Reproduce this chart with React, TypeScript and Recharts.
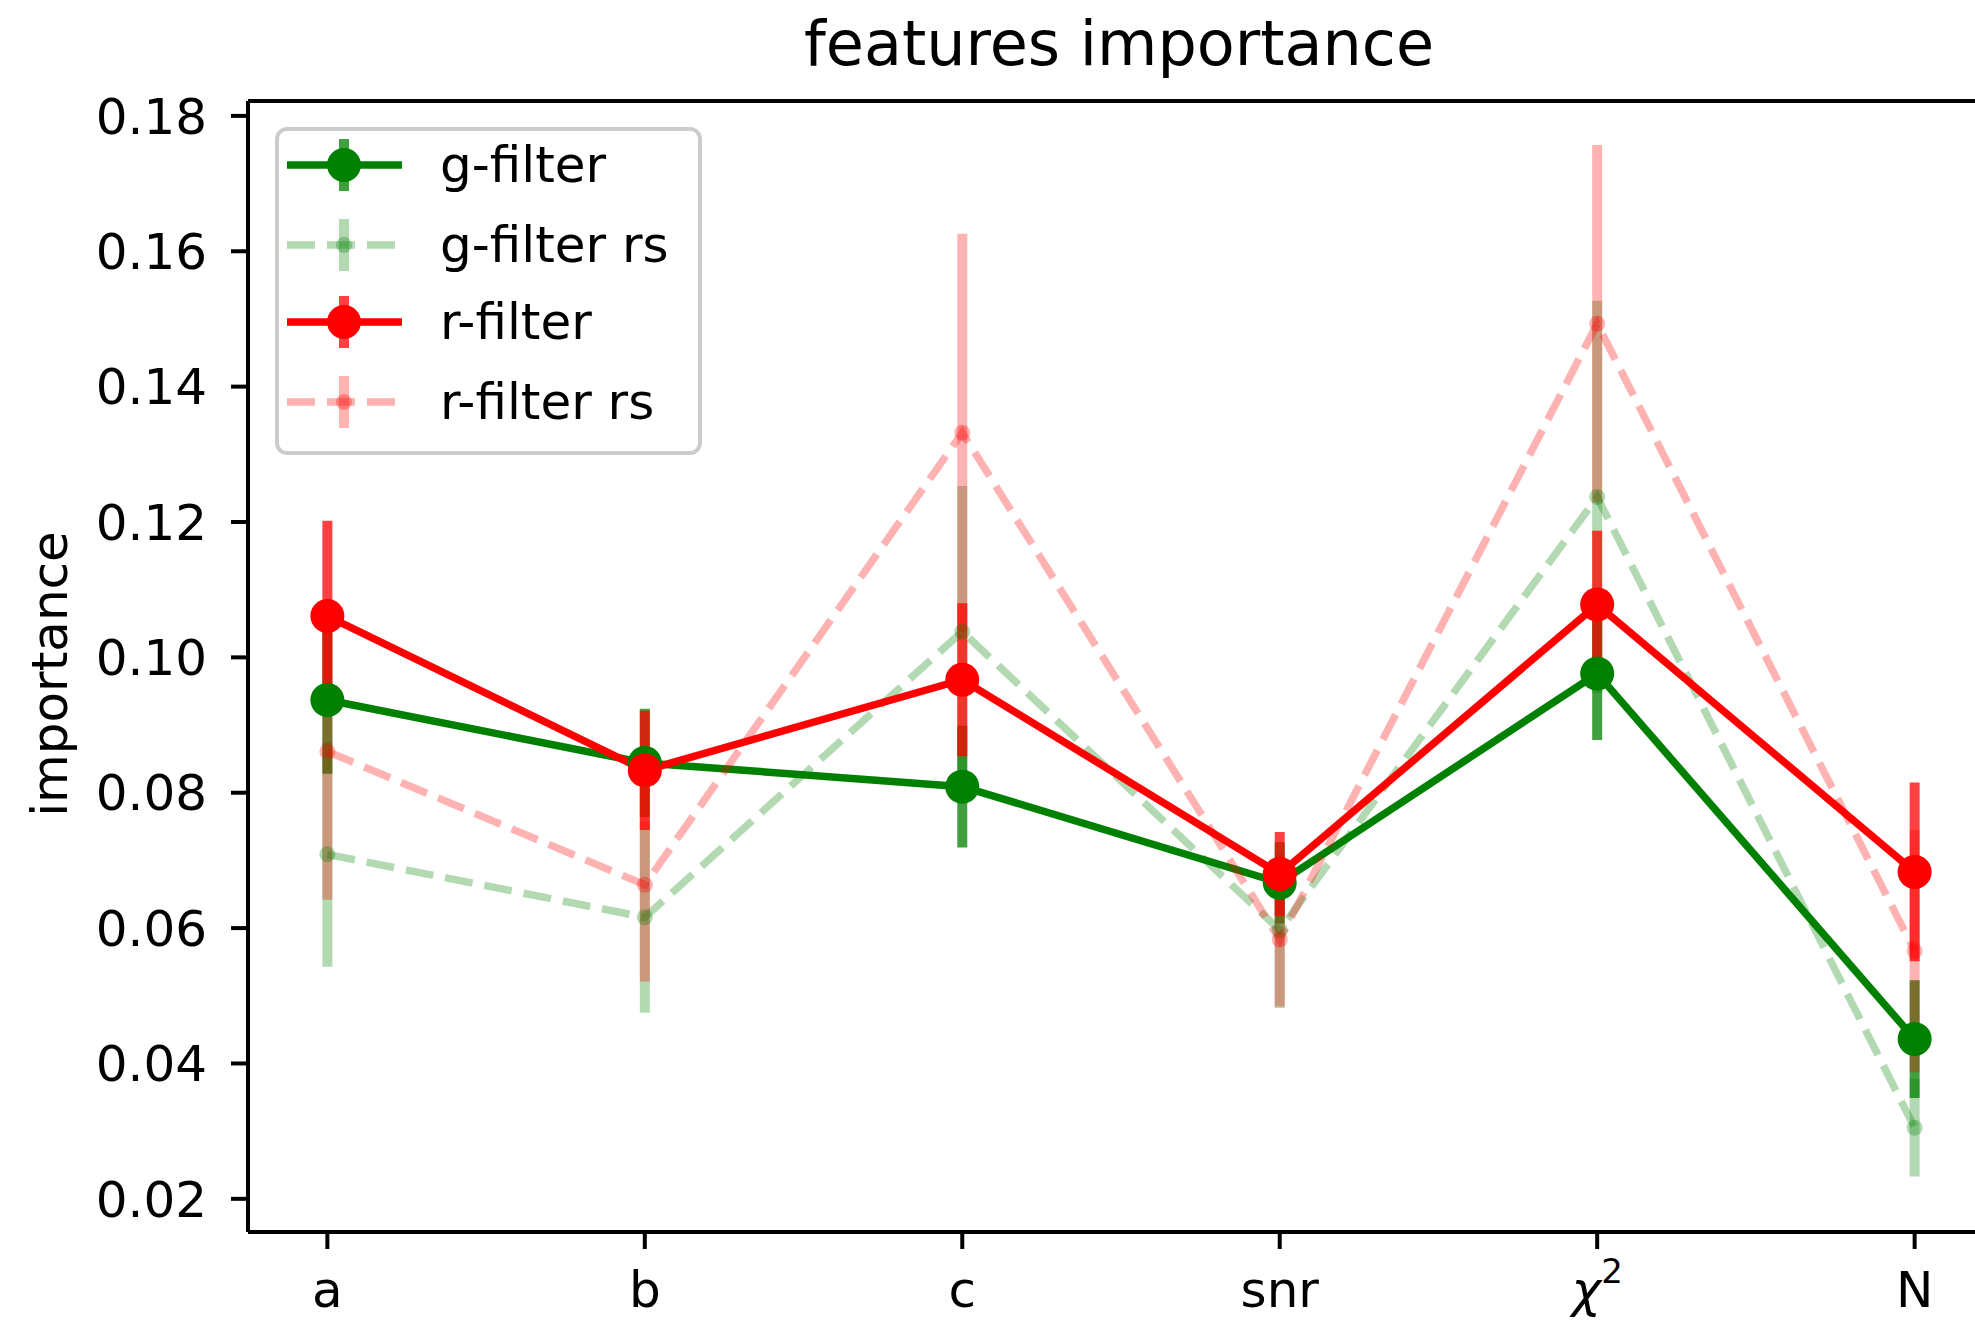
import { ComposedChart, Line, XAxis, YAxis, ErrorBar, ReferenceLine, Legend, Customized } from 'recharts';

const FONT = '"DejaVu Sans", sans-serif';

const categories = ['a', 'b', 'c', 'snr', 'χ²', 'N'];
const gFilter = [0.0937, 0.0844, 0.0809, 0.0667, 0.0976, 0.0436];
const gFilterErr = [0.0109, 0.008, 0.009, 0.006, 0.0098, 0.0087];
const gFilterRs = [0.0709, 0.0616, 0.1038, 0.0597, 0.1237, 0.0305];
const gFilterRsErr = [0.0166, 0.0141, 0.0215, 0.0115, 0.029, 0.0072];
const rFilter = [0.1061, 0.0833, 0.0967, 0.068, 0.1078, 0.0683];
const rFilterErr = [0.0141, 0.0088, 0.0113, 0.0062, 0.0109, 0.0132];
const rFilterRs = [0.0861, 0.0664, 0.1332, 0.0583, 0.1493, 0.0566];
const rFilterRsErr = [0.0219, 0.0143, 0.0294, 0.0099, 0.0264, 0.0179];
const yTicks = [0.02, 0.04, 0.06, 0.08, 0.1, 0.12, 0.14, 0.16, 0.18];

const legendItems = [
  { label: 'g-filter', rgb: '0,128,0', rs: false },
  { label: 'g-filter rs', rgb: '0,128,0', rs: true },
  { label: 'r-filter', rgb: '255,0,0', rs: false },
  { label: 'r-filter rs', rgb: '255,0,0', rs: true },
];

const data = categories.map((name, i) => ({
  x: i,
  name,
  gFilter: gFilter[i],
  gFilterErr: gFilterErr[i],
  gFilterRs: gFilterRs[i],
  gFilterRsErr: gFilterRsErr[i],
  rFilter: rFilter[i],
  rFilterErr: rFilterErr[i],
  rFilterRs: rFilterRs[i],
  rFilterRsErr: rFilterRsErr[i],
}));

function CategoryTick(props: any) {
  const { x, y, payload } = props;
  const label = categories[payload.value];
  if (label === 'χ²') {
    return (
      <text x={x} y={y} dy={38} textAnchor="middle" fontSize={50} fill="#000" fontFamily={FONT}>
        <tspan fontStyle="italic">χ</tspan>
        <tspan fontSize={34} dy={-24}>2</tspan>
      </text>
    );
  }
  return (
    <text x={x} y={y} dy={38} textAnchor="middle" fontSize={50} fill="#000" fontFamily={FONT}>
      {label}
    </text>
  );
}

function LegendBox() {
  const rows = [38, 118, 195, 275];
  return (
    <svg width={427} height={330}>
      <rect x={2} y={2} width={423} height={324} rx={10} fill="rgba(255,255,255,0.8)" stroke="#cccccc" strokeWidth={4} />
      {legendItems.map((it, i) => {
        const cy = rows[i];
        const a = it.rs ? 0.3 : 1;
        return (
          <g key={it.label}>
            <line
              x1={12}
              x2={127}
              y1={cy}
              y2={cy}
              stroke={`rgba(${it.rgb},${a})`}
              strokeWidth={7.5}
              strokeDasharray={it.rs ? '28 12' : undefined}
            />
            <line x1={69} x2={69} y1={cy - 26} y2={cy + 26} stroke={`rgba(${it.rgb},${it.rs ? 0.3 : 0.75})`} strokeWidth={10} />
            <circle cx={69} cy={cy} r={it.rs ? 8 : 17} fill={`rgba(${it.rgb},${a})`} />
            <text x={165} y={cy} dominantBaseline="central" fontSize={50} fill="#000" fontFamily={FONT}>
              {it.label}
            </text>
          </g>
        );
      })}
    </svg>
  );
}

function Title() {
  return (
    <g>
      <text x={1119} y={65} textAnchor="middle" fontSize={62} fill="#000" fontFamily={FONT}>
        features importance
      </text>
      <text
        x={50}
        y={674}
        transform="rotate(-90 50 674)"
        textAnchor="middle"
        dominantBaseline="central"
        fontSize={50}
        fill="#000"
        fontFamily={FONT}
      >
        importance
      </text>
    </g>
  );
}

export default function App() {
  return (
    <div style={{ position: 'absolute', left: 0, top: 0, width: 1975, height: 1337, overflow: 'hidden', background: '#fff' }}>
      <ComposedChart width={2000} height={1337} data={data} margin={{ top: 101, right: 6, bottom: 0, left: 0 }}>
        <XAxis
          type="number"
          dataKey="x"
          domain={[-0.25, 5.25]}
          ticks={[0, 1, 2, 3, 4, 5]}
          allowDataOverflow
          interval={0}
          height={105}
          tick={<CategoryTick />}
          tickSize={17}
          tickMargin={20}
          axisLine={{ stroke: '#000', strokeWidth: 4 }}
          tickLine={{ stroke: '#000', strokeWidth: 4 }}
        />
        <YAxis
          type="number"
          domain={[0.0151, 0.1822]}
          ticks={yTicks}
          allowDataOverflow
          interval={0}
          width={248}
          tickFormatter={(v: number) => v.toFixed(2)}
          tick={{ fontSize: 50, fill: '#000', fontFamily: FONT }}
          tickSize={17}
          tickMargin={24}
          axisLine={{ stroke: '#000', strokeWidth: 4 }}
          tickLine={{ stroke: '#000', strokeWidth: 4 }}
        />
        <ReferenceLine y={0.1822} stroke="#000" strokeWidth={4} />
        <ReferenceLine x={5.25} stroke="#000" strokeWidth={4} />
        <Line
          type="linear"
          dataKey="gFilter"
          stroke="#008000"
          strokeWidth={7.5}
          dot={{ r: 17, fill: '#008000', stroke: 'none' }}
          activeDot={false}
          isAnimationActive={false}
        >
          <ErrorBar dataKey="gFilterErr" direction="y" width={0} stroke="rgba(0,128,0,0.75)" strokeWidth={10} />
        </Line>
        <Line
          type="linear"
          dataKey="gFilterRs"
          stroke="rgba(0,128,0,0.3)"
          strokeWidth={7.5}
          strokeDasharray="28 12"
          dot={{ r: 8, fill: 'rgba(0,128,0,0.3)', stroke: 'none', strokeDasharray: '' }}
          activeDot={false}
          isAnimationActive={false}
        >
          <ErrorBar dataKey="gFilterRsErr" direction="y" width={0} stroke="rgba(0,128,0,0.3)" strokeWidth={10} />
        </Line>
        <Line
          type="linear"
          dataKey="rFilter"
          stroke="#ff0000"
          strokeWidth={7.5}
          dot={{ r: 17, fill: '#ff0000', stroke: 'none' }}
          activeDot={false}
          isAnimationActive={false}
        >
          <ErrorBar dataKey="rFilterErr" direction="y" width={0} stroke="rgba(255,0,0,0.75)" strokeWidth={10} />
        </Line>
        <Line
          type="linear"
          dataKey="rFilterRs"
          stroke="rgba(255,0,0,0.3)"
          strokeWidth={7.5}
          strokeDasharray="28 12"
          dot={{ r: 8, fill: 'rgba(255,0,0,0.3)', stroke: 'none', strokeDasharray: '' }}
          activeDot={false}
          isAnimationActive={false}
        >
          <ErrorBar dataKey="rFilterRsErr" direction="y" width={0} stroke="rgba(255,0,0,0.3)" strokeWidth={10} />
        </Line>
        <Legend
          layout="vertical"
          align="center"
          verticalAlign="middle"
          content={<LegendBox />}
          wrapperStyle={{ left: 275, top: 127, width: 427, height: 330 }}
        />
        <Customized component={<Title />} />
      </ComposedChart>
    </div>
  );
}
